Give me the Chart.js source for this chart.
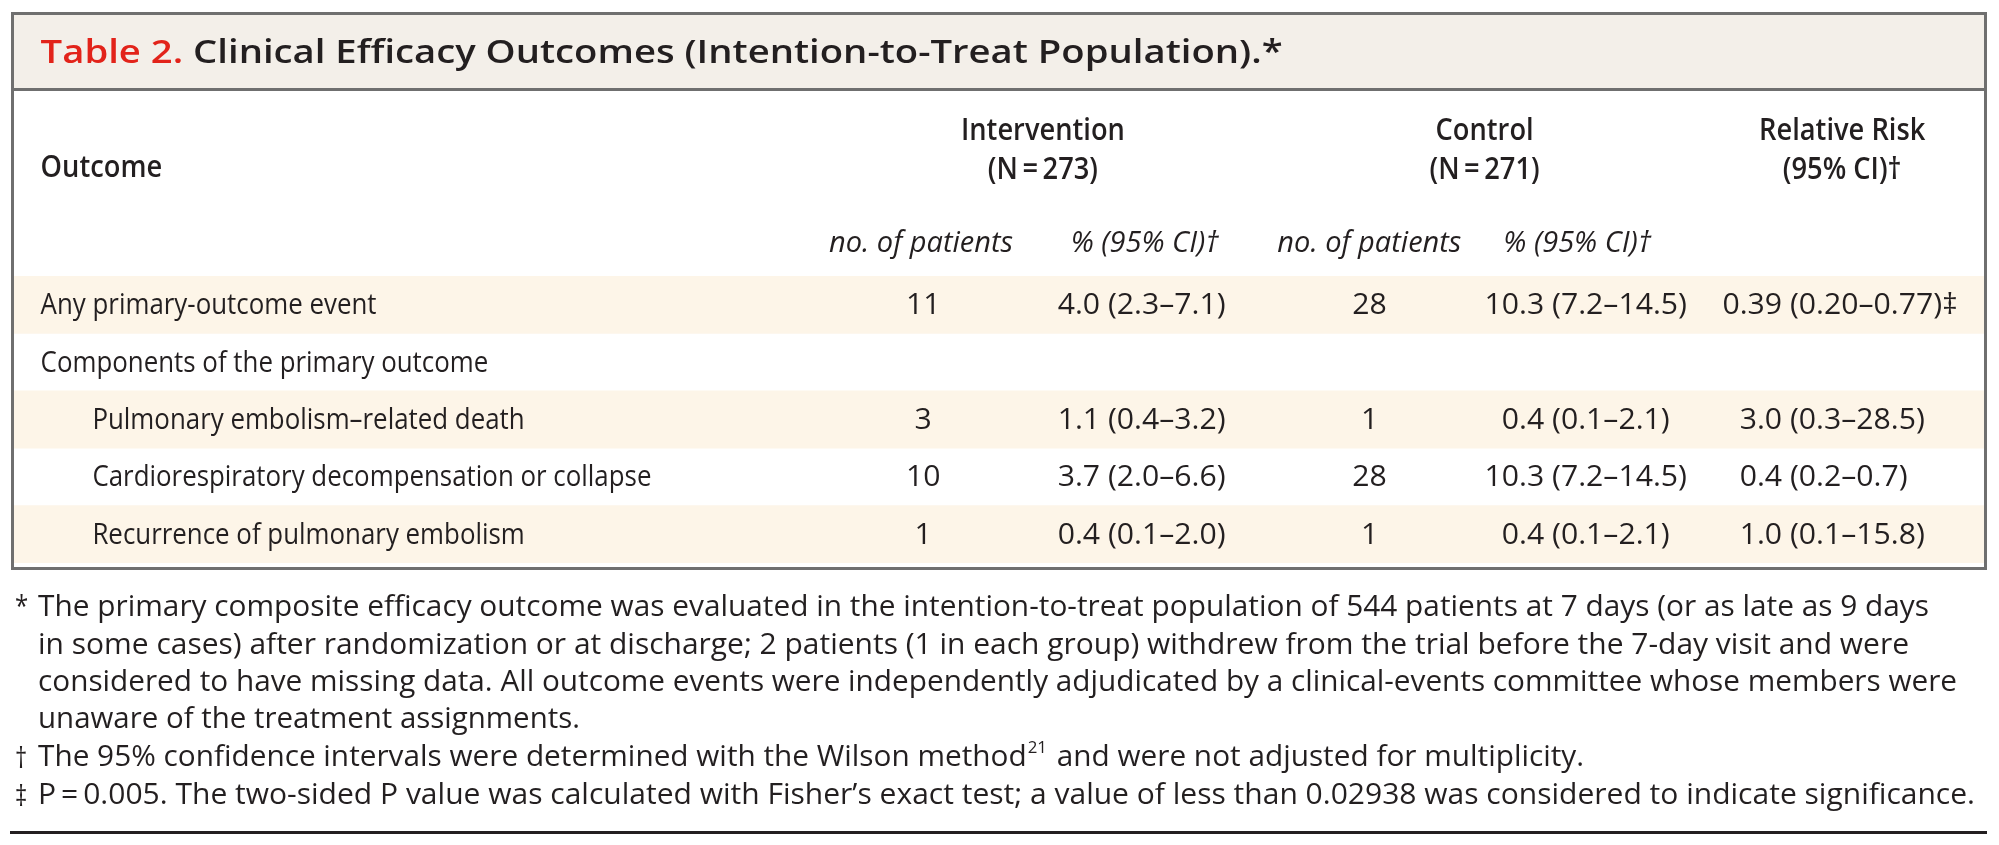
<!DOCTYPE html>
<html>
<head>
<meta charset="utf-8">
<script src="https://cdn.jsdelivr.net/npm/chart.js@4/dist/chart.umd.min.js"></script>
<style>
  html, body { margin: 0; padding: 0; background: #ffffff; }
  #wrap { width: 1999px; height: 845px; }
</style>
</head>
<body>
<div id="wrap"><canvas id="tableChart" width="1999" height="845"></canvas></div>
<script>
// Table content
const outcomes = [
  'Any primary-outcome event',
  'Components of the primary outcome',
  'Pulmonary embolism\u2013related death',
  'Cardiorespiratory decompensation or collapse',
  'Recurrence of pulmonary embolism'
];
const rowLevel = [0, 0, 1, 1, 1];
const interventionCount = [11, null, 3, 10, 1];
const interventionPct = ['4.0 (2.3\u20137.1)', null, '1.1 (0.4\u20133.2)', '3.7 (2.0\u20136.6)', '0.4 (0.1\u20132.0)'];
const controlCount = [28, null, 1, 28, 1];
const controlPct = ['10.3 (7.2\u201314.5)', null, '0.4 (0.1\u20132.1)', '10.3 (7.2\u201314.5)', '0.4 (0.1\u20132.1)'];
const relativeRisk = ['0.39 (0.20\u20130.77)\u2021', null, '3.0 (0.3\u201328.5)', '0.4 (0.2\u20130.7)', '1.0 (0.1\u201315.8)'];
const shadedRow = [true, false, true, false, true];

const titleLabel = 'Table 2.';
const titleText = ' Clinical Efficacy Outcomes (Intention-to-Treat Population).*';
const groupHeaders = [['Intervention', '(N\u2009=\u2009273)'], ['Control', '(N\u2009=\u2009271)'], ['Relative Risk', '(95% CI)\u2020']];
const subHeaders = ['no. of patients', '% (95% CI)\u2020', 'no. of patients', '% (95% CI)\u2020'];
const footnotes = [
  ['*', 'The primary composite efficacy outcome was evaluated in the intention-to-treat population of 544 patients at 7 days (or as late as 9 days'],
  ['', 'in some cases) after randomization or at discharge; 2 patients (1 in each group) withdrew from the trial before the 7-day visit and were'],
  ['', 'considered to have missing data. All outcome events were independently adjudicated by a clinical-events committee whose members were'],
  ['', 'unaware of the treatment assignments.'],
  ['\u2020', 'The 95% confidence intervals were determined with the Wilson method|21| and were not adjusted for multiplicity.'],
  ['\u2021', 'P\u2009=\u20090.005. The two-sided P value was calculated with Fisher\u2019s exact test; a value of less than 0.02938 was considered to indicate significance.']
];

// column anchors as fractions of the table width (cells with CI are aligned on the "(")
const col = {
  label: 0.0135, indent: 0.0398,
  intCount: 0.4615, intPct: 0.5553, ctrlCount: 0.6881, ctrlPct: 0.7807, rr: 0.9015,
  hdr: [0.5223, 0.7465, 0.928], sub: [0.4604, 0.574, 0.688, 0.7936]
};
// footnote layout: text start, right ends of each line, line centres
const noteLeft = 38;
const noteRight = [1929, 1909, 1957, 580, 1585, 1975];
const noteY = [607, 645, 682, 719, 757, 795];

const FONT = '"Open Sans", "Noto Sans", sans-serif';
const INK = '#231f20';
const BORDER = '#6f6f6f';

function txt(ctx, s, x, y, font, squeeze, align, color) {
  ctx.save();
  ctx.font = font;
  ctx.fillStyle = color || INK;
  ctx.textBaseline = 'middle';
  ctx.translate(x, y);
  ctx.scale(squeeze, 1);
  ctx.textAlign = align || 'left';
  ctx.fillText(s, 0, 0);
  const w = ctx.measureText(s).width * squeeze;
  ctx.restore();
  return w;
}

function measure(ctx, s, font) {
  ctx.save();
  ctx.font = font;
  const w = ctx.measureText(s).width;
  ctx.restore();
  return w;
}

function fitSqueeze(ctx, s, font, target) {
  return target / measure(ctx, s, font);
}

// cell aligned on the opening parenthesis
function parenCell(ctx, s, x, y, font, sq) {
  const i = s.indexOf('(');
  txt(ctx, s.slice(0, i), x, y, font, sq, 'right');
  txt(ctx, s.slice(i), x, y, font, sq, 'left');
}

const tablePlugin = {
  id: 'tablePlugin',
  beforeDraw(chart) {
    const ctx = chart.ctx;
    const a = chart.chartArea;
    ctx.save();
    ctx.fillStyle = '#ffffff';
    ctx.fillRect(0, 0, chart.width, chart.height);
    ctx.fillStyle = '#f3efe9';
    ctx.fillRect(a.left, 15, a.right - a.left, 74);
    ctx.restore();
  },
  afterDatasetsDraw(chart) {
    const ctx = chart.ctx;
    const a = chart.chartArea;
    const xs = chart.scales.x;
    const ys = chart.scales.y;
    const X = f => xs.getPixelForValue(f);

    const bodyFont = '30px ' + FONT;
    const bodySq = fitSqueeze(ctx, outcomes[3], bodyFont, 559);
    const numSq = fitSqueeze(ctx, interventionPct[0], bodyFont, 168);
    const boldFont = '600 31px ' + FONT;
    const boldSq = fitSqueeze(ctx, 'Intervention', boldFont, 164);
    const titleFont = '600 33px ' + FONT;
    const titleSq = fitSqueeze(ctx, titleLabel + titleText, titleFont, 1242);
    const itFont = 'italic 30px ' + FONT;
    const itSq = fitSqueeze(ctx, 'no. of patients', itFont, 184);
    const noteFont = '30px ' + FONT;
    const supFont = '17px ' + FONT;

    // title
    const w = txt(ctx, titleLabel, X(col.label), 54, titleFont, titleSq, 'left', '#e2231a');
    txt(ctx, titleText, X(col.label) + w, 54, titleFont, titleSq, 'left');

    // column headers
    txt(ctx, 'Outcome', X(col.label), 168, boldFont, boldSq, 'left');
    groupHeaders.forEach((h, i) => {
      txt(ctx, h[0], X(col.hdr[i]), 131, boldFont, boldSq, 'center');
      txt(ctx, h[1], X(col.hdr[i]), 170, boldFont, boldSq, 'center');
    });
    subHeaders.forEach((h, i) => {
      txt(ctx, h, X(col.sub[i]), 243, itFont, itSq, 'center');
    });

    // body rows
    outcomes.forEach((name, i) => {
      const y = ys.getPixelForValue(i) + 1;
      txt(ctx, name, X(rowLevel[i] ? col.indent : col.label), y, bodyFont, bodySq, 'left');
      if (interventionCount[i] !== null) txt(ctx, String(interventionCount[i]), X(col.intCount), y, bodyFont, numSq, 'center');
      if (interventionPct[i]) parenCell(ctx, interventionPct[i], X(col.intPct), y, bodyFont, numSq);
      if (controlCount[i] !== null) txt(ctx, String(controlCount[i]), X(col.ctrlCount), y, bodyFont, numSq, 'center');
      if (controlPct[i]) parenCell(ctx, controlPct[i], X(col.ctrlPct), y, bodyFont, numSq);
      if (relativeRisk[i]) parenCell(ctx, relativeRisk[i], X(col.rr), y, bodyFont, numSq);
    });

    // borders
    ctx.save();
    ctx.strokeStyle = BORDER;
    ctx.lineWidth = 3;
    ctx.beginPath();
    ctx.moveTo(a.left - 1.5, 13.5); ctx.lineTo(a.right + 1.5, 13.5);
    ctx.moveTo(a.left - 1.5, 89.5); ctx.lineTo(a.right + 1.5, 89.5);
    ctx.moveTo(a.left - 1.5, a.bottom + 5.5); ctx.lineTo(a.right + 1.5, a.bottom + 5.5);
    ctx.moveTo(a.left - 1.5, 12); ctx.lineTo(a.left - 1.5, a.bottom + 7);
    ctx.moveTo(a.right + 1.5, 12); ctx.lineTo(a.right + 1.5, a.bottom + 7);
    ctx.stroke();
    ctx.restore();

    // footnotes, each line fitted to its width in the original
    footnotes.forEach((f, i) => {
      const y = noteY[i];
      const parts = f[1].split('|');
      let natural = 0;
      parts.forEach((p, k) => { natural += measure(ctx, p, k === 1 ? supFont : noteFont) + (k === 1 ? 4 : 0); });
      const sq = (noteRight[i] - noteLeft) / natural;
      if (f[0]) txt(ctx, f[0], 15, y + (f[0] === '*' ? 0 : 2), noteFont, 0.8, 'left');
      let x = noteLeft;
      parts.forEach((p, k) => {
        if (k === 1) {
          x += txt(ctx, p, x + 1, y - 9, supFont, sq, 'left') + 3;
        } else {
          x += txt(ctx, p, x, y, noteFont, sq, 'left');
        }
      });
    });

    ctx.save();
    ctx.strokeStyle = '#231f20';
    ctx.lineWidth = 3;
    ctx.beginPath();
    ctx.moveTo(10, 832.5); ctx.lineTo(a.right + 3, 832.5);
    ctx.stroke();
    ctx.restore();
  }
};

new Chart(document.getElementById('tableChart').getContext('2d'), {
  type: 'bar',
  data: {
    labels: outcomes,
    datasets: [{
      data: shadedRow.map(s => (s ? [0, 1] : null)),
      backgroundColor: '#fdf5e8',
      borderWidth: 0,
      barPercentage: 1,
      categoryPercentage: 1
    }]
  },
  options: {
    indexAxis: 'y',
    responsive: false,
    devicePixelRatio: 1,
    animation: false,
    layout: { padding: { top: 276, bottom: 282, left: 14, right: 15 } },
    plugins: { legend: { display: false }, tooltip: { enabled: false } },
    scales: {
      x: { type: 'linear', min: 0, max: 1, display: false },
      y: { type: 'category', display: false }
    }
  },
  plugins: [tablePlugin]
});
</script>
</body>
</html>
